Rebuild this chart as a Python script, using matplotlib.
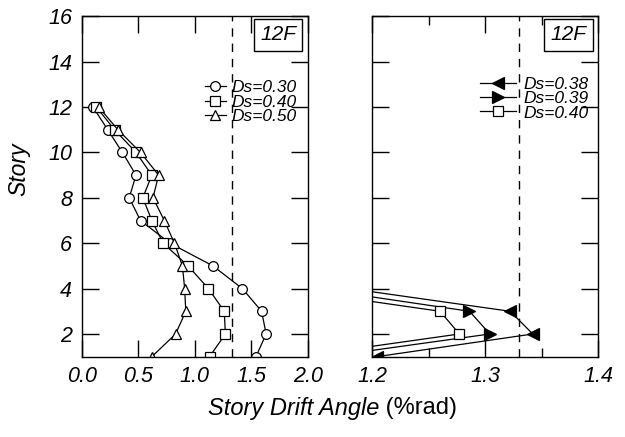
import matplotlib
matplotlib.use("Agg")
import matplotlib.pyplot as plt
from matplotlib.ticker import FormatStrFormatter, MultipleLocator

plt.rcParams["font.family"] = ["Liberation Sans", "DejaVu Sans"]

# left panel: drift angle per story, Ds = 0.30 / 0.40 / 0.50
stories = [1, 2, 3, 4, 5, 6, 7, 8, 9, 10, 11, 12]
ds_030 = [1.54, 1.63, 1.59, 1.42, 1.16, 0.78, 0.52, 0.42, 0.48, 0.36, 0.23, 0.10]
ds_040 = [1.13, 1.27, 1.26, 1.12, 0.94, 0.72, 0.62, 0.54, 0.62, 0.48, 0.29, 0.13]
ds_050 = [0.62, 0.83, 0.92, 0.91, 0.89, 0.82, 0.73, 0.63, 0.68, 0.52, 0.32, 0.15]

# right panel: zoomed range around the limit, Ds = 0.38 / 0.39 / 0.40
stories_r = [1, 2, 3, 4]
ds_038 = [1.204, 1.342, 1.322, 1.18]
ds_039 = [1.16, 1.304, 1.286, 1.15]
ds_040r = [1.135, 1.277, 1.260, 1.12]

limit_angle = 1.33

TICK_FS = 15.5
LEG_FS = 12.5

fig = plt.figure(figsize=(6.25, 4.37), dpi=100)
ax1 = fig.add_axes([0.1307, 0.1838, 0.3621, 0.779])
ax2 = fig.add_axes([0.5957, 0.1838, 0.3616, 0.779])

line_kw = dict(color="black", linewidth=0.9, markeredgewidth=0.9,
               markeredgecolor="black")

ax1.plot(ds_030, stories, marker="o", markersize=7, markerfacecolor="white",
         label="Ds=0.30", **line_kw)
ax1.plot(ds_040, stories, marker="s", markersize=7, markerfacecolor="white",
         label="Ds=0.40", **line_kw)
ax1.plot(ds_050, stories, marker="^", markersize=7.5, markerfacecolor="white",
         label="Ds=0.50", **line_kw)

ax2.plot(ds_038, stories_r, marker="<", markersize=8, markerfacecolor="black",
         label="Ds=0.38", **line_kw)
ax2.plot(ds_039, stories_r, marker=">", markersize=8, markerfacecolor="black",
         label="Ds=0.39", **line_kw)
ax2.plot(ds_040r, stories_r, marker="s", markersize=7, markerfacecolor="white",
         label="Ds=0.40", **line_kw)

for ax in (ax1, ax2):
    ax.axvline(limit_angle, color="black", linewidth=1.0, linestyle=(0, (6, 5)))
    ax.set_ylim(1, 16)
    ax.yaxis.set_major_locator(MultipleLocator(2))
    ax.tick_params(which="major", direction="in", length=12.5, width=1.0,
                   top=True, right=True, labelsize=TICK_FS, pad=7)
    ax.tick_params(which="minor", direction="in", length=6.5, width=1.0,
                   top=True, right=True)
    for sp in ax.spines.values():
        sp.set_linewidth(1.0)
    ax.text(0.868, 0.945, "12F", transform=ax.transAxes, fontsize=15,
            fontstyle="italic", ha="center", va="center",
            bbox=dict(boxstyle="square,pad=0.3", facecolor="white",
                      edgecolor="black", linewidth=1.0))

ax1.set_xlim(0, 2)
ax1.xaxis.set_major_locator(MultipleLocator(0.5))
ax1.xaxis.set_major_formatter(FormatStrFormatter("%.1f"))

ax2.set_xlim(1.2, 1.4)
ax2.set_xticks([1.2, 1.3, 1.4])
ax2.set_xticks([1.25, 1.35], minor=True)
ax2.xaxis.set_major_formatter(FormatStrFormatter("%.1f"))
ax2.tick_params(labelleft=False)

for ax in (ax1, ax2):
    for lab in ax.get_xticklabels() + ax.get_yticklabels():
        lab.set_fontstyle("italic")

ax1.legend(loc="upper right", bbox_to_anchor=(0.948, 0.812), frameon=False,
           prop=dict(style="italic", size=LEG_FS),
           handlelength=1.2, handletextpad=0.3, labelspacing=-0.05,
           borderpad=0, borderaxespad=0)
ax2.legend(loc="upper right", bbox_to_anchor=(0.955, 0.822), frameon=False,
           prop=dict(style="italic", size=LEG_FS),
           handlelength=2.1, handletextpad=0.4, labelspacing=-0.05,
           borderpad=0, borderaxespad=0)

ax1.set_ylabel("Story", fontsize=16.5, fontstyle="italic")
ax1.yaxis.set_label_coords(-0.225, 0.55)

fig.text(0.607, 0.066, "Story Drift Angle", fontsize=17, fontstyle="italic",
         ha="right", va="center")
fig.text(0.607, 0.066, " (%rad)", fontsize=17, ha="left", va="center")

fig.savefig("out.png", dpi=100)
